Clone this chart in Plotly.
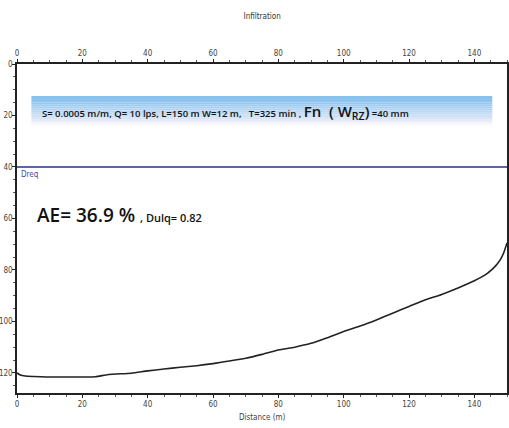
import plotly.graph_objects as go

# ---- data ----
distance = [0, 1, 2.5, 5, 9, 15, 20, 24, 28, 35, 40, 45, 50, 55, 60, 65, 70, 75, 80, 85, 90, 95,
            100, 105, 110, 115, 120, 125, 130, 135, 140, 142, 144, 145, 146, 147, 148, 149, 150]
infiltration = [120.0, 120.8, 121.2, 121.4, 121.6, 121.6, 121.6, 121.5, 120.6, 120.1, 119.2, 118.5,
                117.8, 117.2, 116.4, 115.4, 114.3, 112.8, 111.1, 110.0, 108.5, 106.3,
                103.9, 101.8, 99.4, 96.8, 94.2, 91.6, 89.5, 87.0, 84.2, 82.9, 81.3, 80.3, 79.1,
                77.7, 75.9, 73.3, 69.5]
dreq = 40
x_ticks = [0, 20, 40, 60, 80, 100, 120, 140]
y_ticks = [0, 20, 40, 60, 80, 100, 120]
title_text = "Infiltration"
x_title = "Distance (m)"
banner_text = ("S= 0.0005 m/m, Q= 10 lps, L=150 m W=12 m,&nbsp;&nbsp; T=325 min , "
               "<span style='font-size:15px'>Fn&nbsp; ( W<sub>RZ</sub>)</span> =40 mm")
ae_text = "AE= 36.9 % <span style='font-size:11px'>, Dulq= 0.82</span>"

NARROW = "DejaVu Sans Condensed, Liberation Sans Narrow, sans-serif"
TICKFONT = dict(family=NARROW, size=8, color="#444")

fig = go.Figure()

# gradient banner (stacked strips)
y_top, y_bot = 12.4, 23.8
n = 14
for i in range(n):
    f = i / (n - 1)
    r = int(135 + (250 - 135) * f ** 1.3)
    g = int(193 + (246 - 193) * f ** 1.3)
    b = int(238 + (252 - 238) * f ** 1.3)
    y0 = y_top + (y_bot - y_top) * i / n
    y1 = y_top + (y_bot - y_top) * (i + 1) / n
    fig.add_shape(type="rect", xref="x", yref="y", x0=4.4, x1=145.5, y0=y0, y1=y1,
                  fillcolor=f"rgb({r},{g},{b})", line=dict(width=0), layer="below")

fig.add_trace(go.Scatter(x=distance, y=infiltration, mode="lines", line_shape="spline",
                         line=dict(color="#222", width=1.6, smoothing=0.6), showlegend=False))
fig.add_trace(go.Scatter(x=[0, 150], y=[dreq, dreq], mode="lines",
                         line=dict(color="#2e2e8c", width=1.5), showlegend=False))
# invisible trace for the top axis
fig.add_trace(go.Scatter(x=[0, 150], y=[dreq, dreq], mode="lines", xaxis="x2",
                         line=dict(width=0), hoverinfo="skip", showlegend=False))

fig.add_annotation(x=0.5, y=dreq, xref="x", yref="y", text="Dreq", showarrow=False,
                   xanchor="left", yanchor="top", yshift=-1,
                   font=dict(family=NARROW, size=8, color="#4a4ab0"))
fig.add_annotation(x=7.0, y=18.6, xref="x", yref="y", text=banner_text, showarrow=False,
                   xanchor="left", yanchor="middle",
                   font=dict(family="Open Sans, sans-serif", size=9.5, color="#111", weight=600))
fig.add_annotation(x=5.6, y=58.5, xref="x", yref="y", text=ae_text, showarrow=False,
                   xanchor="left", yanchor="middle",
                   font=dict(family="Open Sans, sans-serif", size=19, color="#111", weight=600))
fig.add_annotation(x=0.5, y=-0.012, xref="paper", yref="paper", text=x_title, showarrow=False,
                   xanchor="center", yanchor="top", yshift=-14,
                   font=dict(family=NARROW, size=8, color="#444"))

axis_common = dict(showgrid=False, zeroline=False, showline=True, linecolor="#222", linewidth=1.5,
                   ticks="outside", ticklen=3, tickwidth=1.2, tickcolor="#222",
                   tickfont=TICKFONT, automargin=False,
                   minor=dict(ticks="outside", ticklen=2, tickwidth=1, tickcolor="#555", dtick=5))

fig.update_layout(
    width=509, height=428,
    margin=dict(l=17, r=2, t=64, b=35),
    paper_bgcolor="white", plot_bgcolor="white",
    title=dict(text=title_text, x=0.515, xanchor="center", y=0.962, yanchor="middle",
               font=dict(family=NARROW, size=8, color="#333")),
    xaxis=dict(range=[0, 150], tickvals=x_ticks, mirror="ticks", **axis_common),
    xaxis2=dict(range=[0, 150], tickvals=x_ticks, overlaying="x", side="top", matches="x",
                **axis_common),
    yaxis=dict(range=[127.8, 0], tickvals=y_ticks, mirror="ticks", ticklabelstandoff=-2,
               **axis_common),
)

fig.write_html("out.html")
